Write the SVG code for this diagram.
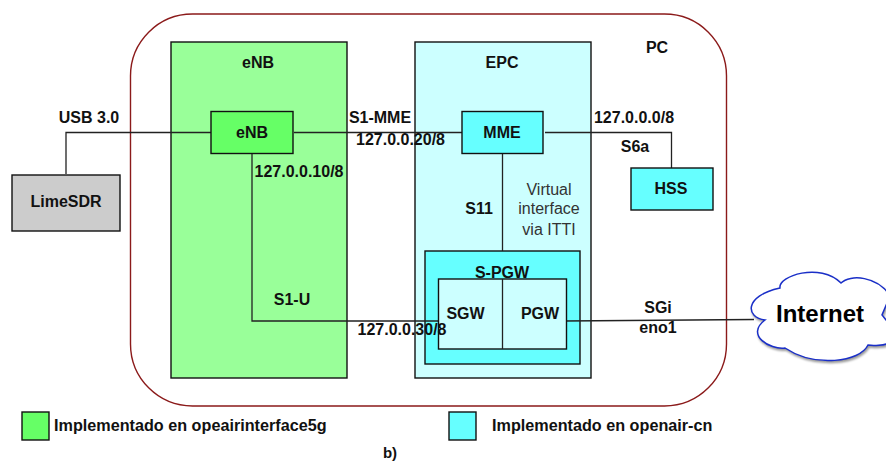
<svg xmlns="http://www.w3.org/2000/svg" width="886" height="461" viewBox="0 0 886 461">
<style>
text{font-family:"Liberation Sans",Arial,sans-serif;font-weight:bold;font-size:16px;fill:#111;text-anchor:middle}
.n{font-weight:normal;fill:#333}
.l{text-anchor:start;font-size:16.200px}
rect{stroke:#111;stroke-width:1.4}
.c{fill:none;stroke:#222;stroke-width:1.3}
.lg{fill:#66ff66}.lc{fill:#66ffff}.pc{fill:#ccffff}.pg{fill:#99ff99}
</style>
<rect width="886" height="461" style="fill:#fff;stroke:none"/>
<g id="pc"><rect x="130.500" y="14" width="596" height="392" rx="62" ry="62" style="fill:#fff;stroke:#8b1a1a"/><text x="657" y="53">PC</text></g>
<g id="enb-zone"><rect class="pg" x="171" y="42" width="176" height="336"/><text x="258" y="68">eNB</text></g>
<g id="epc-zone"><rect class="pc" x="415" y="42" width="176" height="336"/><text x="502" y="68">EPC</text></g>
<g id="spgw"><rect class="lc" x="425" y="251" width="155" height="113"/><text x="502" y="278">S-PGW</text></g>
<g id="connectors">
<path class="c" d="M66 174V132.500H211"/>
<path class="c" d="M294 132.500H462"/>
<path class="c" d="M545 132.500H671.500V168"/>
<path class="c" d="M252 153V321H441"/>
<path class="c" d="M502.500 153V251"/>
<path class="c" d="M564 321L754 319.500"/>
</g>
<g id="limesdr"><rect x="12" y="175" width="108" height="56" style="fill:#cccccc"/><text x="66" y="207">LimeSDR</text></g>
<g id="enb"><rect class="lg" x="211" y="111.500" width="82" height="42"/><text x="252" y="138">eNB</text></g>
<g id="mme"><rect class="lc" x="462" y="111.500" width="81" height="42"/><text x="502" y="138">MME</text></g>
<g id="hss"><rect class="lc" x="631" y="168" width="82" height="42"/><text x="671" y="194">HSS</text></g>
<g id="sgw-pgw"><rect class="pc" x="438.500" y="279" width="128" height="70"/><path class="c" d="M502.500 279V349"/><text x="465.500" y="319">SGW</text><text x="540" y="319">PGW</text></g>
<g id="internet"><path d="M765 320C746 318 743 296 780 288C778 276 820 262 841 283C850 274 878 276 890 296L882 315L890 325V343C880 347 872 345 868 345C860 362 815 368 785 348C770 350 745 335 765 320Z" style="fill:#fff;stroke:#1a2fc8;stroke-width:1.5;filter:drop-shadow(1px 2px 1px #999)"/><text x="820" y="322" style="font-size:24px;fill:#000">Internet</text></g>
<g id="labels">
<text x="89" y="123">USB 3.0</text>
<text x="380" y="123">S1-MME</text>
<text x="400.500" y="145">127.0.0.20/8</text>
<text x="299" y="177">127.0.0.10/8</text>
<text x="634" y="123">127.0.0.0/8</text>
<text x="635" y="152">S6a</text>
<text x="479" y="214">S11</text>
<text class="n" x="549" y="195">Virtual</text>
<text class="n" x="549" y="214">interface</text>
<text class="n" x="549" y="235">via ITTI</text>
<text x="292" y="305">S1-U</text>
<text x="402" y="335">127.0.0.30/8</text>
<text x="658" y="313">SGi</text>
<text x="658" y="333">eno1</text>
</g>
<g id="legend">
<rect class="lg" x="22" y="412" width="27" height="28"/><text class="l" x="54" y="431">Implementado en opeairinterface5g</text>
<rect class="lc" x="449" y="412" width="27" height="28"/><text class="l" x="492" y="431">Implementado en openair-cn</text>
<text x="390" y="458" style="font-size:15px">b)</text>
</g>
</svg>
